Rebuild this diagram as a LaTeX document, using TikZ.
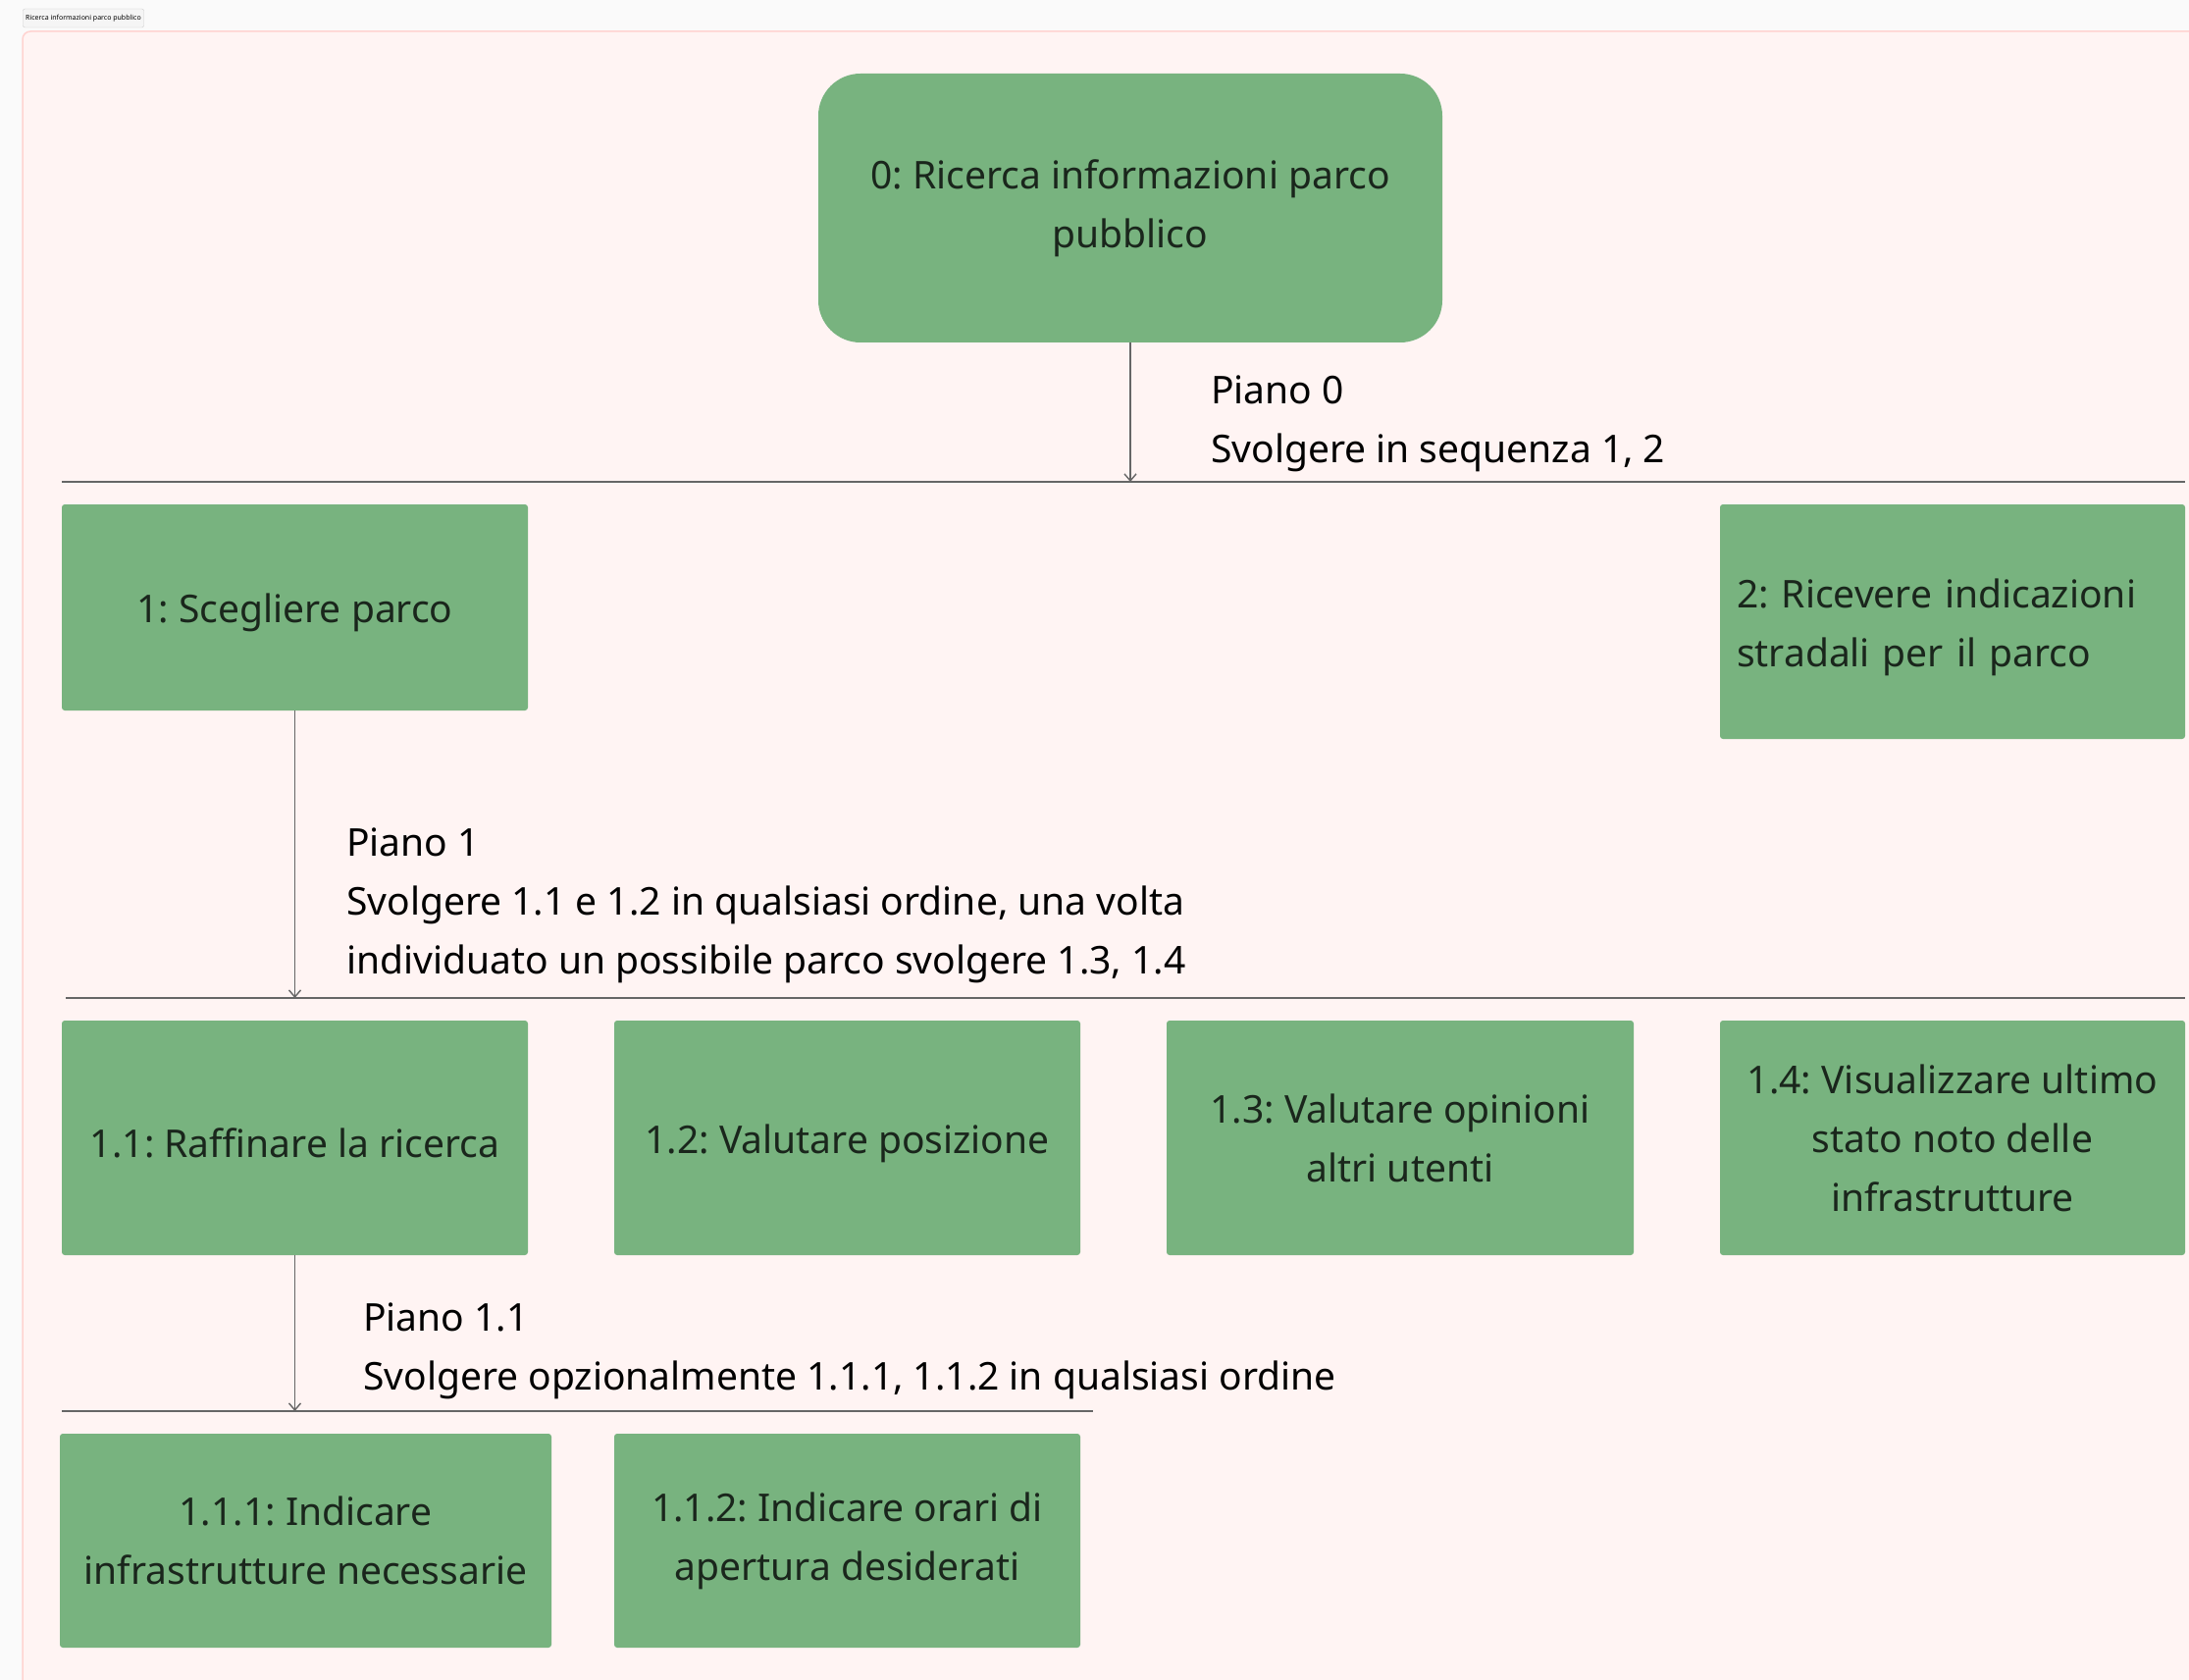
\documentclass[tikz,border=0pt]{standalone}
\usepackage{fontspec}
\setmainfont{Noto Sans}
\frenchspacing
\usetikzlibrary{arrows.meta}
\definecolor{bgpage}{HTML}{FAFAFA}
\definecolor{framefill}{HTML}{FFF4F3}
\definecolor{frameline}{HTML}{FFD3D0}
\definecolor{boxgreen}{HTML}{78B37F}
\definecolor{boxtext}{HTML}{1A261C}
\definecolor{connline}{HTML}{666666}
\tikzset{
  task/.style={fill=boxgreen, draw=none, rounded corners=3pt, text=boxtext,
    font=\fontsize{39}{60}\selectfont\frenchspacing, align=center, inner sep=0pt,
    execute at begin node={\rule{0pt}{41pt}}},
  plantext/.style={anchor=base west, align=left, inner sep=0pt, text=black,
    font=\fontsize{39}{60}\selectfont\frenchspacing},
  barline/.style={draw=connline, line width=1.6pt},
  conn/.style={draw=connline, line width=1.6pt, -{Straight Barb[length=7pt,width=12pt,line width=1.4pt]}}
}
\begin{document}
\begin{tikzpicture}[x=1pt,y=-1pt]
\useasboundingbox (0,0) rectangle (2231,1712);
\fill[bgpage] (0,0) rectangle (2231,1712);
\draw[fill=framefill, draw=frameline, line width=1.5pt, rounded corners=8pt] (23,32) rectangle (2260,1740);
% title tag
\node[draw=black!20, fill=black!4, rounded corners=2pt, inner sep=2pt, minimum width=123pt, minimum height=19pt, font=\fontsize{7}{8}\selectfont] (tag) at (85,18.5) {Ricerca informazioni parco pubblico};

% root
\node[task, rounded corners=43pt, minimum width=636pt, minimum height=274pt] (root) at (1152,212)
  {0: Ricerca informazioni parco\\pubblico};

% level 1 bar
\coordinate (b0l) at (63,491);
\coordinate (b0r) at (2227,491);
\draw[barline] (b0l) -- (b0r);
\draw[conn] (root.south) -- (root.south |- b0l);
\node[plantext] (p0) at (1234,471) {Piano 0\\Svolgere in sequenza 1, 2};

\node[task, minimum width=475pt, minimum height=210pt] (t1) at (300.5,619) {1: Scegliere parco};
\node[task, minimum width=474pt, minimum height=239pt, text width=440pt, align=left] (t2) at (1990,633.5)
  {2: Ricevere indicazioni\\stradali per il parco};

% level 2 bar
\coordinate (b1l) at (67,1017);
\coordinate (b1r) at (2227,1017);
\draw[barline] (b1l) -- (b1r);
\draw[conn] (t1.south) -- (t1.south |- b1l);
\node[plantext] (p1) at (353,992) {Piano 1\\Svolgere 1.1 e 1.2 in qualsiasi ordine, una volta\\individuato un possibile parco svolgere 1.3, 1.4};

\node[task, minimum width=475pt, minimum height=239pt] (t11) at (300.5,1159.5) {1.1: Raffinare la ricerca};
\node[task, minimum width=475pt, minimum height=239pt] (t12) at (863.5,1159.5) {1.2: Valutare posizione};
\node[task, minimum width=476pt, minimum height=239pt] (t13) at (1427,1159.5) {1.3: Valutare opinioni\\altri utenti};
\node[task, minimum width=474pt, minimum height=239pt] (t14) at (1990,1159.5) {1.4: Visualizzare ultimo\\stato noto delle\\infrastrutture};

% level 3 bar
\coordinate (b2l) at (63,1438);
\coordinate (b2r) at (1114,1438);
\draw[barline] (b2l) -- (b2r);
\draw[conn] (t11.south) -- (t11.south |- b2l);
\node[plantext] (p11) at (370,1416) {Piano 1.1\\Svolgere opzionalmente 1.1.1, 1.1.2 in qualsiasi ordine};

\node[task, minimum width=501pt, minimum height=218pt] (t111) at (311.5,1570) {1.1.1: Indicare\\infrastrutture necessarie};
\node[task, minimum width=475pt, minimum height=218pt] (t112) at (863.5,1570) {1.1.2: Indicare orari di\\apertura desiderati};
\end{tikzpicture}
\end{document}
